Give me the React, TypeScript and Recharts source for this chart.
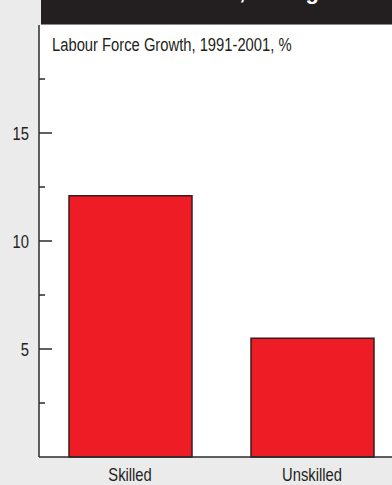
import { Bar, BarChart, CartesianGrid, XAxis, YAxis } from "recharts";

const categories = ["Skilled", "Unskilled"];
const growth = [12.1, 5.5];
const yTicks = [2.5, 5, 7.5, 10, 12.5, 15, 17.5];
const yLabels = [5, 10, 15];

const data = categories.map((name, i) => ({ name, growth: growth[i] }));

// no narrow face installed, so Liberation Sans is squeezed horizontally
const FONT = "'Liberation Sans', Arial, sans-serif";
const NARROW = 0.82;

const YTick = (props: any) => {
	const { x, y, payload } = props;
	const major = yLabels.includes(payload.value);
	return (
		<g>
			<line x1={x} x2={x + (major ? 13 : 6)} y1={y} y2={y} stroke="#2b2b2b" strokeWidth={1.5} />
			{major && (
				<g transform={`translate(${x - 10},${y}) scale(${NARROW},1)`}>
					<text x={0} y={0} dy={6.5} textAnchor="end" fill="#231f20" fontSize={18} fontFamily={FONT}>
						{payload.value}
					</text>
				</g>
			)}
		</g>
	);
};

const XTick = (props: any) => {
	const { x, y, payload } = props;
	return (
		<g transform={`translate(${x},${y}) scale(${NARROW},1)`}>
			<text x={0} y={0} dy={13} textAnchor="middle" fill="#231f20" fontSize={18} fontFamily={FONT}>
				{payload.value}
			</text>
		</g>
	);
};

const App = () => {
	return (
		<div
			style={{
				position: "absolute",
				top: 0,
				left: 0,
				width: 392,
				height: 485,
				background: "#ebebeb",
				overflow: "hidden",
			}}
		>
			<BarChart
				width={415}
				height={485}
				data={data}
				margin={{ top: 25, right: 12, bottom: 0, left: 0 }}
			>
				<CartesianGrid horizontal={false} vertical={false} fill="#ffffff" />
				<XAxis
					dataKey="name"
					height={28}
					tickSize={0}
					tickMargin={11}
					axisLine={{ stroke: "#2b2b2b", strokeWidth: 1.5 }}
					tickLine={false}
					tick={XTick}
				/>
				<YAxis
					width={39}
					domain={[0, 20]}
					ticks={yTicks}
					interval={0}
					tickSize={0}
					tickMargin={0}
					tickLine={false}
					axisLine={{ stroke: "#2b2b2b", strokeWidth: 1.5 }}
					tick={YTick}
				/>
				<Bar
					dataKey="growth"
					fill="#ee1d25"
					stroke="#3a1c1c"
					strokeWidth={1.5}
					barSize={123}
					isAnimationActive={false}
				/>
			</BarChart>

			{/* header band, title runs off the top edge */}
			<svg
				width={351}
				height={24}
				style={{ position: "absolute", left: 41, top: 0, background: "#231f20" }}
			>
				<text x={48} y={-1.5} fill="#ffffff" fontSize={22} fontWeight="bold" fontFamily={FONT}>
					Skilled Labour, Rising Share
				</text>
			</svg>
			<div style={{ position: "absolute", left: 41, top: 24, width: 351, height: 1, background: "#8a8a8a" }} />

			<div
				style={{
					position: "absolute",
					left: 52,
					top: 35,
					fontFamily: FONT,
					fontSize: 18,
					lineHeight: "20px",
					color: "#231f20",
					whiteSpace: "nowrap",
					transform: `scaleX(${NARROW})`,
					transformOrigin: "0 0",
				}}
			>
				Labour Force Growth, 1991-2001, %
			</div>
		</div>
	);
};

export default App;
